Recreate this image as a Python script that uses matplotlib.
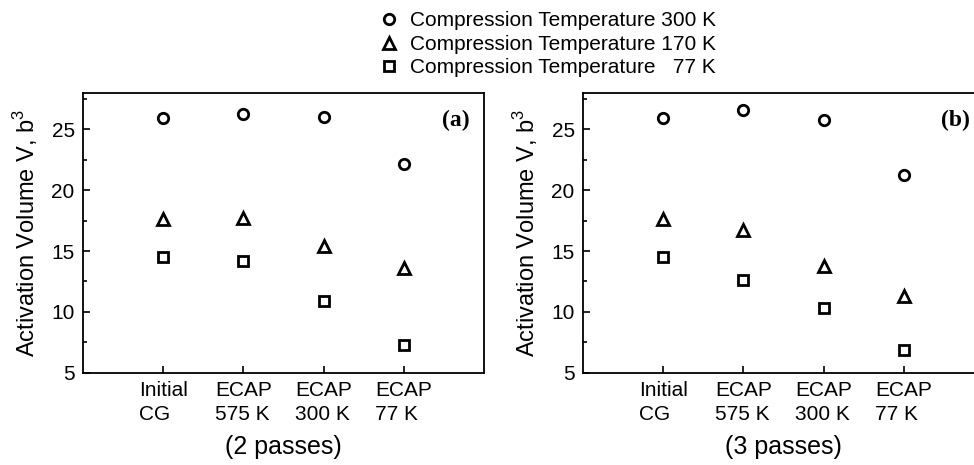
import numpy as np
import matplotlib
matplotlib.use('Agg')
import matplotlib.pyplot as plt
from matplotlib.ticker import MultipleLocator

plt.rcParams['font.family'] = ['Liberation Sans', 'DejaVu Sans']

categories = ['Initial\nCG', 'ECAP\n575 K', 'ECAP\n300 K', 'ECAP\n77 K']
labels = ['Compression Temperature 300 K',
          'Compression Temperature 170 K',
          'Compression Temperature   77 K']

# (a) 2 passes
a_300 = [25.95, 26.25, 26.0, 22.15]
a_170 = [17.6, 17.7, 15.45, 13.6]
a_77 = [14.5, 14.15, 10.9, 7.3]

# (b) 3 passes
b_300 = [25.95, 26.6, 25.75, 21.25]
b_170 = [17.65, 16.7, 13.75, 11.3]
b_77 = [14.5, 12.65, 10.3, 6.85]

markers = ['o', '^', 's']
sizes = [7.5, 8.5, 7]

W, H = 974, 465
fig = plt.figure(figsize=(W/100, H/100), dpi=100)

def make_axes(x0, x1, y_top, y_bot):
    return fig.add_axes([x0/W, 1-y_bot/H, (x1-x0)/W, (y_bot-y_top)/H])

ax1 = make_axes(83, 484, 93, 372.7)
ax2 = make_axes(583, 984, 93, 372.7)

x = np.arange(1, len(categories)+1)

def draw(ax, series, tag, xlabel):
    handles = []
    for vals, m, s in zip(series, markers, sizes):
        h, = ax.plot(x, vals, linestyle='none', marker=m, markersize=s,
                     markerfacecolor='white', markeredgecolor='black',
                     markeredgewidth=2.0)
        handles.append(h)
    ax.set_xlim(0, 5)
    ax.set_ylim(5, 28)
    ax.set_xticks(x)
    ax.set_xticklabels(categories, fontsize=15, multialignment='left',
                       linespacing=1.35)
    ax.yaxis.set_major_locator(MultipleLocator(5))
    ax.yaxis.set_minor_locator(MultipleLocator(2.5))
    ax.tick_params(axis='both', which='both', direction='in', labelsize=15,
                   width=1.2)
    ax.tick_params(axis='both', which='major', length=5, pad=6)
    ax.tick_params(axis='y', which='minor', length=3)
    ax.tick_params(axis='x', which='minor', bottom=False)
    for sp in ax.spines.values():
        sp.set_linewidth(1.3)
    ax.set_ylabel('Activation Volume V, b$^{\\mathregular{3}}$', fontsize=17,
                  labelpad=8)
    ax.set_xlabel(xlabel, fontsize=18, labelpad=8)
    ax.text(0.965, 0.903, tag, transform=ax.transAxes, ha='right', va='center',
            fontsize=17, fontweight='bold', family='Liberation Serif')
    return handles

handles = draw(ax1, [a_300, a_170, a_77], '(a)', '(2 passes)')
draw(ax2, [b_300, b_170, b_77], '(b)', '(3 passes)')

fig.legend(handles, labels, loc='upper left', bbox_to_anchor=(372/W, 1-5/H),
           frameon=False, fontsize=15, handlelength=1.0, handletextpad=0.5,
           labelspacing=0.22, numpoints=1, borderaxespad=0, borderpad=0.3)

fig.savefig('out.png', dpi=100)
